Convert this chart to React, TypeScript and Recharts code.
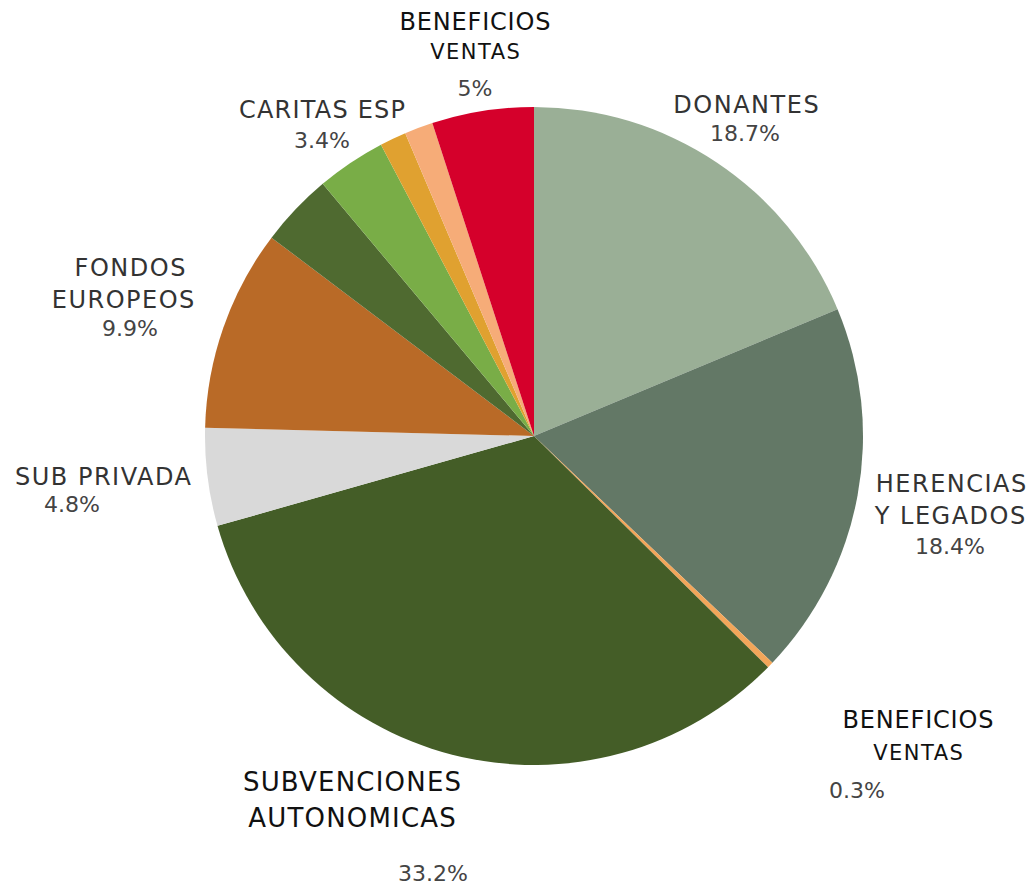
import React from "react";
import { PieChart, Pie, Cell } from "recharts";

const categories = [
  "DONANTES",
  "HERENCIAS Y LEGADOS",
  "BENEFICIOS VENTAS",
  "SUBVENCIONES AUTONOMICAS",
  "SUB PRIVADA",
  "FONDOS EUROPEOS",
  "OTROS",
  "CARITAS ESP",
  "OTROS 2",
  "OTROS 3",
  "BENEFICIOS VENTAS 2",
];
const values = [18.7, 18.4, 0.3, 33.2, 4.8, 9.9, 3.6, 3.4, 1.3, 1.4, 5];
const percentLabels = ["18.7%", "18.4%", "0.3%", "33.2%", "4.8%", "9.9%", "", "3.4%", "", "", "5%"];
const colors = [
  "#9aaf96",
  "#637866",
  "#f2a65a",
  "#445d27",
  "#d9d9d9",
  "#b96a27",
  "#4f6a30",
  "#79ad47",
  "#e0a130",
  "#f6ac78",
  "#d5002b",
];

// label layout (separate from data)
type Line = { t: string; x: number; y: number; s: number; c: string; ls?: number };
const labelLayout: Record<number, Line[]> = {
  0: [
    { t: "DONANTES", x: 746, y: 105, s: 24, c: "#333", ls: 1.5 },
    { t: "18.7%", x: 745, y: 133, s: 22, c: "#444" },
  ],
  1: [
    { t: "HERENCIAS", x: 951, y: 484, s: 24, c: "#333", ls: 1.5 },
    { t: "Y LEGADOS", x: 950, y: 516, s: 24, c: "#333", ls: 1.5 },
    { t: "18.4%", x: 950, y: 546, s: 22, c: "#444" },
  ],
  2: [
    { t: "BENEFICIOS", x: 918, y: 720, s: 24, c: "#111", ls: 0.8 },
    { t: "VENTAS", x: 918, y: 753, s: 21, c: "#111", ls: 1.5 },
    { t: "0.3%", x: 857, y: 790, s: 22, c: "#444" },
  ],
  3: [
    { t: "SUBVENCIONES", x: 352, y: 782, s: 26, c: "#111", ls: 1.2 },
    { t: "AUTONOMICAS", x: 352, y: 818, s: 26, c: "#111", ls: 1.2 },
    { t: "33.2%", x: 433, y: 873, s: 22, c: "#444" },
  ],
  4: [
    { t: "SUB PRIVADA", x: 103, y: 477, s: 24, c: "#333", ls: 1.5 },
    { t: "4.8%", x: 72, y: 504, s: 22, c: "#444" },
  ],
  5: [
    { t: "FONDOS", x: 130, y: 268, s: 24, c: "#333", ls: 1.5 },
    { t: "EUROPEOS", x: 123, y: 300, s: 24, c: "#333", ls: 1.5 },
    { t: "9.9%", x: 130, y: 328, s: 22, c: "#444" },
  ],
  7: [
    { t: "CARITAS ESP", x: 322, y: 110, s: 24, c: "#333", ls: 1.2 },
    { t: "3.4%", x: 322, y: 140, s: 22, c: "#444" },
  ],
  10: [
    { t: "BENEFICIOS", x: 475, y: 22, s: 24, c: "#111", ls: 0.8 },
    { t: "VENTAS", x: 475, y: 52, s: 21, c: "#111", ls: 1.5 },
    { t: "5%", x: 475, y: 88, s: 22, c: "#444" },
  ],
};

const data = categories.map((name, i) => ({ name, value: values[i], pct: percentLabels[i] }));

const renderLabel = (props: any) => {
  const lines = labelLayout[props.index];
  if (!lines) return null;
  return (
    <g key={`lbl-${props.index}`}>
      {lines.map((l, j) => (
        <text
          key={j}
          x={l.x + (l.ls || 0) / 2}
          y={l.y}
          textAnchor="middle"
          dominantBaseline="central"
          fontSize={l.s}
          fill={l.c}
          letterSpacing={l.ls || 0}
          fontFamily="'DejaVu Sans', sans-serif"
          fontWeight={400}
        >
          {l.t}
        </text>
      ))}
    </g>
  );
};

export default function App() {
  return (
    <div style={{ position: "absolute", left: 0, top: 0, width: 1033, height: 884, background: "#fff" }}>
      <PieChart width={1033} height={884} margin={{ top: 0, right: 0, bottom: 0, left: 0 }}>
        <Pie
          data={data}
          dataKey="value"
          nameKey="name"
          cx={534}
          cy={436}
          outerRadius={329}
          innerRadius={0}
          startAngle={90}
          endAngle={-270}
          stroke="none"
          label={renderLabel}
          labelLine={false}
          isAnimationActive={false}
        >
          {data.map((d, i) => (
            <Cell key={d.name} fill={colors[i]} />
          ))}
        </Pie>
      </PieChart>
    </div>
  );
}
